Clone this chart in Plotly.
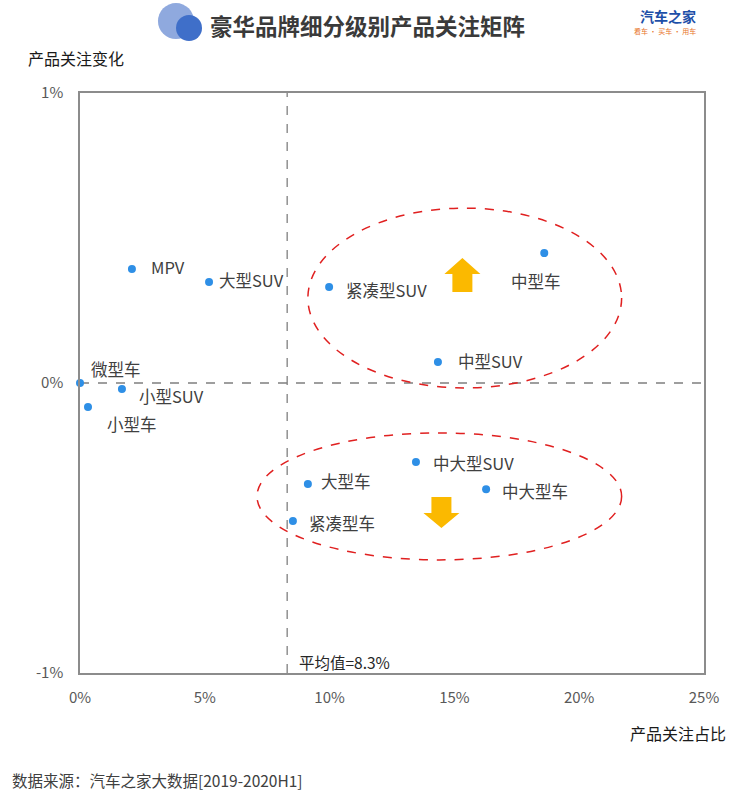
import plotly.graph_objects as go

# ---- data ----
categories = ["微型车", "小型SUV", "小型车", "MPV", "大型SUV", "紧凑型SUV",
              "中型车", "中型SUV", "中大型SUV", "大型车", "中大型车", "紧凑型车"]
share = [0.00, 1.68, 0.32, 2.08, 5.17, 9.98, 18.60, 14.34, 13.46, 9.13, 16.27, 8.53]   # 产品关注占比 (%)
change = [0.000, -0.021, -0.083, 0.393, 0.348, 0.331, 0.448, 0.072, -0.272, -0.348, -0.366, -0.476]  # 产品关注变化 (%)
avg_share = 8.3
x_ticks = [0, 5, 10, 15, 20, 25]
x_tick_text = ["0%", "5%", "10%", "15%", "20%", "25%"]
y_ticks = [-1, 0, 1]
y_tick_text = ["-1%", "0%", "1%"]

# label offsets (pixels) per category
label_offsets = {
    "微型车": (9, 14), "小型SUV": (15, -7), "小型车": (17, -17), "MPV": (17, 2),
    "大型SUV": (8, 2), "紧凑型SUV": (15, -3), "中型车": (-35, -28), "中型SUV": (18, 1),
    "中大型SUV": (15, -1), "大型车": (11, 3), "中大型车": (14, -2), "紧凑型车": (14, -2),
}

FONT = "Noto Sans CJK SC, Noto Sans, sans-serif"

fig = go.Figure()
fig.add_trace(go.Scatter(
    x=share, y=change, mode="markers",
    marker=dict(color="#2e8fe6", size=8),
    hoverinfo="text", text=categories, showlegend=False, cliponaxis=False,
))

annotations = []
for c, xv, yv in zip(categories, share, change):
    dx, dy = label_offsets[c]
    annotations.append(dict(
        x=xv, y=yv, xref="x", yref="y", text=c, showarrow=False,
        xanchor="left", yanchor="middle", xshift=dx, yshift=dy,
        font=dict(size=16.5, color="#404040", family=FONT),
    ))

annotations += [
    dict(x=avg_share, y=-0.962, xref="x", yref="y", text=f"平均值={avg_share}%",
         showarrow=False, xanchor="left", yanchor="middle", xshift=10,
         font=dict(size=15.5, color="#262626", family=FONT)),
    dict(x=0.4615, y=1.117, xref="paper", yref="paper", text="<b>豪华品牌细分级别产品关注矩阵</b>",
         showarrow=False, xanchor="center", yanchor="middle",
         font=dict(size=22.5, color="#3a3a3a", family=FONT)),
    dict(x=-0.087, y=1.060, xref="paper", yref="paper", text="产品关注变化",
         showarrow=False, xanchor="left", yanchor="middle",
         font=dict(size=16, color="#1a1a1a", family=FONT)),
    dict(x=1.0385, y=-0.1034, xref="paper", yref="paper", text="产品关注占比",
         showarrow=False, xanchor="right", yanchor="middle",
         font=dict(size=16, color="#1a1a1a", family=FONT)),
    dict(x=-0.112, y=-0.162, xref="paper", yref="paper", text="数据来源：汽车之家大数据[2019-2020H1]",
         showarrow=False, xanchor="left", yanchor="top",
         font=dict(size=15.5, color="#404040", family=FONT)),
    dict(x=1.0, y=1.133, xref="paper", yref="paper", text="<b>汽车之家</b>",
         showarrow=False, xanchor="right", yanchor="middle", xshift=-6,
         font=dict(size=14, color="#1d4fa8", family=FONT)),
    dict(x=1.0, y=1.107, xref="paper", yref="paper", text="看车 · 买车 · 用车",
         showarrow=False, xanchor="right", yanchor="middle", xshift=-6,
         font=dict(size=7, color="#e8742a", family=FONT)),
]

shapes = [
    # zero line and average line
    dict(type="line", xref="x", yref="y", x0=0, x1=25, y0=0, y1=0,
         line=dict(color="#7f7f7f", width=1.3, dash="dash"), layer="below"),
    dict(type="line", xref="x", yref="y", x0=avg_share, x1=avg_share, y0=-1, y1=1,
         line=dict(color="#7f7f7f", width=1.3, dash="dash"), layer="below"),
    # ellipses
    dict(type="circle", xref="x", yref="y", x0=9.13, x1=21.7, y0=-0.017, y1=0.603,
         line=dict(color="#e02020", width=1.5, dash="dash")),
    dict(type="circle", xref="x", yref="y", x0=7.09, x1=21.7, y0=-0.61, y1=-0.172,
         line=dict(color="#e02020", width=1.5, dash="dash")),
    # arrows
    dict(type="path", xref="x", yref="y", xsizemode="pixel", ysizemode="pixel",
         xanchor=15.32, yanchor=0.372,
         path="M 0 17 L 18 1 L 10 1 L 10 -17 L -10 -17 L -10 1 L -18 1 Z",
         fillcolor="#fbb900", line=dict(width=0)),
    dict(type="path", xref="x", yref="y", xsizemode="pixel", ysizemode="pixel",
         xanchor=14.48, yanchor=-0.445,
         path="M 0 -16 L 18 -1 L 10 -1 L 10 15 L -10 15 L -10 -1 L -18 -1 Z",
         fillcolor="#fbb900", line=dict(width=0)),
    # title circles
    dict(type="circle", xref="paper", yref="paper", xsizemode="pixel", ysizemode="pixel",
         xanchor=0.1538, yanchor=1.124, x0=-18, x1=18, y0=-18, y1=18,
         fillcolor="#8fa9de", line=dict(width=0)),
    dict(type="circle", xref="paper", yref="paper", xsizemode="pixel", ysizemode="pixel",
         xanchor=0.1747, yanchor=1.112, x0=-13, x1=13, y0=-13, y1=13,
         fillcolor="#3f6fc9", line=dict(width=0)),
]

fig.update_layout(
    width=744, height=794,
    margin=dict(l=80, r=40, t=93, b=121),
    paper_bgcolor="white", plot_bgcolor="white",
    font=dict(family=FONT),
    annotations=annotations, shapes=shapes,
    xaxis=dict(range=[0, 25], tickvals=x_ticks, ticktext=x_tick_text,
               showgrid=False, zeroline=False, showline=True, mirror=True,
               linecolor="#8c8c8c", linewidth=1.5, ticks="", ticklabelstandoff=10,
               tickfont=dict(size=15, color="#595959", family=FONT)),
    yaxis=dict(range=[-1, 1], tickvals=y_ticks, ticktext=y_tick_text,
               showgrid=False, zeroline=False, showline=True, mirror=True,
               linecolor="#8c8c8c", linewidth=1.5, ticks="", ticklabelstandoff=12,
               tickfont=dict(size=15, color="#595959", family=FONT)),
)

fig.write_html("out.html")
